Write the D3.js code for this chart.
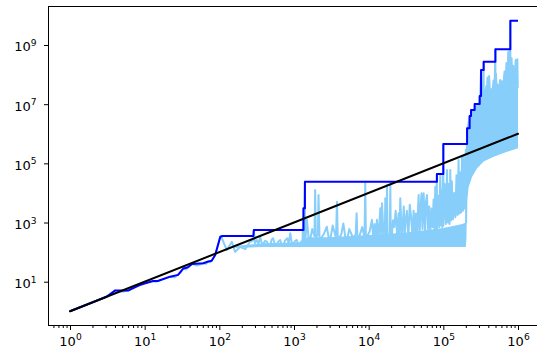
<!DOCTYPE html>
<html><head><meta charset="utf-8">
<script src="https://cdn.jsdelivr.net/npm/d3@7"></script>
<style>html,body{margin:0;padding:0;background:#fff;overflow:hidden}</style>
</head><body><svg id="c" width="537" height="349"></svg>
<script>
// ---- data ----
const stepX = [1,3.1,4,6,8.7,13,15,22,28,33,38,43,61,71,79,88,103,111,286,290,1340,1340,1400,1400,82000,82000,100000,100000,208000,208000,225000,225000,235000,235000,263000,263000,307000,307000,320000,320000,347000,347000,498000,498000,790000,790000,1000000];
const stepY = [1,3.1,5,5,7.8,10.6,10.6,14.8,17,28,31,40,42,48,51,80,330,351,351,562,562,3020,3020,24000,24000,44000,44000,450000,450000,1530000,1530000,4000000,4000000,6350000,6350000,10100000,10100000,18900000,18900000,143000000,143000000,273000000,273000000,717000000,717000000,6620000000,6620000000];

const lightX = [1,2,3,4,5,6,7,8,9,10,12,14,15,18,22,25,28,30,33,36,38,43,50,55,61,66,71,75,79,88,103,106,108,126,147,163,190,222,258,284,290,300,317,335,352,370,387,410,433,455,479,500,525,555,590,620,653,685,717,760,813,850,890,935,985,1040,1090,1150,1200,1250,1300,1340,1342,1400,1402,
1490,1600,1750,1880,1920,1960,2090,2130,2200,2500,2750,3000,3300,3650,3760,3870,4300,4580,5000,5500,6200,6700,6900,7100,8200,8800,9000,9200,9600,
10300,11070,11500,12000,12500,12900,13600,14300,14700,15100,15900,16500,16700,16900,17400,17600,17900,19200,19500,19800,20500,
21200,22000,23000,24000,25200,25800,26500,28000,29500,30500,31000,32500,34000,35500,37000,38500,40000,41500,43000,44500,46700,48000,49500,51000,52500,54500,57000,58500,60300,62500,65000,67000,70000,72000,74000,76000,78000,80000,82000,82100,85000,88000,91000,93000,95000,97000,100000,100100,104000,108000,112000,115000,118000,121000,124000,127000,130000,135000,140000,145000,150000,155000,160000,164000,168000,173000,178000,183000,187000,190000,193000,196000,200000,202000,
208000,212000,225000,225200,233000,235000,235200,247000,255000,263000,263300,272000,278000,285000,292000,300000,307000,307300,320000,320300,327000,335000,347000,347300,360000,368000,375000,383000,390000,398000,410000,422000,440000,455000,470000,485000,498000,498500,505000,520000,540000,557000,577000,595000,610000,635000,660000,680000,700000,720000,740000,765000,790000,790800,820000,840000,860000,895000,930000,955000,980000,992000,1000000];
const lightY = [1,2,3.1,5,4.6,5,6.4,7.5,7.8,9,10.6,10,10.6,12.5,14.8,14,17,20,28,26,31,40,35,38,42,40,48,45,51,80,330,351,295,117,224,102,151,126,224,250,562,200,257,190,331,200,186,240,224,170,158,260,295,180,186,230,257,175,158,250,295,190,437,200,200,240,257,170,158,230,240,3020,200,24000,170,
1230,180,600,350,12600,300,400,8500,250,400,720,200,800,300,5000,250,400,930,200,600,300,400,2040,220,700,300,21400,200,350,
500,1230,300,900,250,1230,300,3020,400,4470,250,500,6600,400,500,18600,300,400,21400,250,400,
1200,700,2500,400,2040,300,6600,250,3500,400,900,2500,300,4000,1500,400,2500,350,2000,500,8500,300,3000,9800,600,9800,400,5000,8500,600,3500,500,3000,700,6000,600,16200,500,44000,600,8000,700,40000,800,12000,700,450000,800,20000,900,60000,1000,20000,900,60000,1200,25000,1300,10000,1500,40000,1800,129000,2000,50000,2200,166000,2500,166000,3000,80000,3000,280000,1000,
1530000,1500000,4000000,2500000,3800000,6350000,3500000,5500000,4000000,10100000,5000000,8000000,5500000,9500000,6000000,9000000,18900000,7000000,143000000,8000000,24000000,10000000,273000000,12000000,30000000,14000000,40000000,16000000,80000000,18000000,89000000,22000000,32000000,25000000,63000000,28000000,717000000,30000000,110000000,32000000,45000000,35000000,66000000,38000000,60000000,40000000,126000000,42000000,245000000,45000000,575000000,45000000,6620000000,45000000,360000000,45000000,200000000,42000000,310000000,40000000,330000000,38000000,35000000];

// dense filled part of the light series (low / high envelope)
const bandX    = [130,200,400,1000,1340,1500,3000,10000,30000,100000,180000,200000,204000,208000,219000,243000,282000,347000,472000,714000,1000000];
const bandLow  = [140,140,150,150,150,150,150,150,150,150,150,150,300,5750,16200,35500,67600,115000,168000,245000,324000];
const bandHigh = [140,170,200,210,220,320,320,380,450,650,900,1000,400000,1300000,3000000,5000000,8000000,15000000,30000000,50000000,38000000];

const refX = [1, 1000000];
const refY = [1, 1000000];

const xMajorTicks = [1,10,100,1000,10000,100000,1000000];
const yMajorTicks = [10,1000,100000,10000000,1000000000];

// ---- drawing ----
const W = 537, H = 349;
const P = {left:47.6, right:540.4, top:6, bottom:326};
const svg = d3.select('#c');
svg.append('rect').attr('width',W).attr('height',H).attr('fill','#fff');

const x = d3.scaleLog().domain([Math.pow(10,-0.3), Math.pow(10,6.3)]).range([P.left, P.right]);
const y = d3.scaleLog().domain([Math.pow(10,-0.497), Math.pow(10,10.318)]).range([P.bottom, P.top]);

svg.append('clipPath').attr('id','clip').append('rect')
  .attr('x',P.left).attr('y',P.top).attr('width',P.right-P.left).attr('height',P.bottom-P.top);
const g = svg.append('g').attr('clip-path','url(#clip)');

const LIGHT = '#87CEFA';
g.append('path')
  .datum(d3.range(bandX.length))
  .attr('d', d3.area().x(i=>x(bandX[i])).y0(i=>y(bandLow[i])).y1(i=>y(bandHigh[i])))
  .attr('fill', LIGHT);

g.append('path')
  .datum(d3.range(lightX.length))
  .attr('d', d3.line().x(i=>x(lightX[i])).y(i=>y(lightY[i])))
  .attr('fill','none').attr('stroke',LIGHT).attr('stroke-width',2).attr('stroke-linejoin','round');

g.append('path')
  .datum(d3.range(stepX.length))
  .attr('d', d3.line().x(i=>x(stepX[i])).y(i=>y(stepY[i])))
  .attr('fill','none').attr('stroke','#0000FF').attr('stroke-width',2).attr('stroke-linejoin','round');

g.append('path')
  .datum(d3.range(refX.length))
  .attr('d', d3.line().x(i=>x(refX[i])).y(i=>y(refY[i])))
  .attr('fill','none').attr('stroke','#000').attr('stroke-width',2).attr('stroke-linecap','round');

// minor x ticks
const xMinor = [];
for (let k=-1;k<=6;k++) for (let m=2;m<=9;m++){ const v=m*Math.pow(10,k); if (v>=x.domain()[0] && v<=x.domain()[1]) xMinor.push(v); }

const FONT = 'DejaVu Sans, sans-serif';
function sup(sel){
  sel.each(function(d){
    const t = d3.select(this);
    t.text(null);
    t.append('tspan').text('10');
    t.append('tspan').attr('dy', -5.5).attr('font-size', 9.1).text(String(Math.round(Math.log10(d))));
  });
}

const gxm = svg.append('g').attr('transform',`translate(0,${P.bottom-0.5})`)
  .call(d3.axisBottom(x).tickValues(xMinor).tickSize(2.5).tickSizeOuter(0).tickFormat(()=>''));
gxm.select('.domain').remove();

const gx = svg.append('g').attr('transform',`translate(0,${P.bottom-0.5})`)
  .call(d3.axisBottom(x).tickValues(xMajorTicks).tickSize(4.5).tickSizeOuter(0).tickPadding(6.3));
gx.select('.domain').remove();
gx.attr('font-family',FONT).attr('font-size',13);
gx.selectAll('.tick text').attr('fill','#000').call(sup);

const gy = svg.append('g').attr('transform',`translate(48.5,0)`)
  .call(d3.axisLeft(y).tickValues(yMajorTicks).tickSize(4.5).tickSizeOuter(0).tickPadding(7.5));
gy.select('.domain').remove();
gy.attr('font-family',FONT).attr('font-size',13);
gy.selectAll('.tick text').attr('fill','#000').attr('dy','6px').call(sup);

svg.selectAll('.tick line').attr('stroke','#000');

// spines
svg.append('line').attr('x1',48.5).attr('x2',48.5).attr('y1',P.top).attr('y2',P.bottom).attr('stroke','#000');
svg.append('line').attr('x1',48).attr('x2',P.right).attr('y1',6.5).attr('y2',6.5).attr('stroke','#000');
svg.append('line').attr('x1',48).attr('x2',P.right).attr('y1',P.bottom-0.5).attr('y2',P.bottom-0.5).attr('stroke','#000');
</script></body></html>
